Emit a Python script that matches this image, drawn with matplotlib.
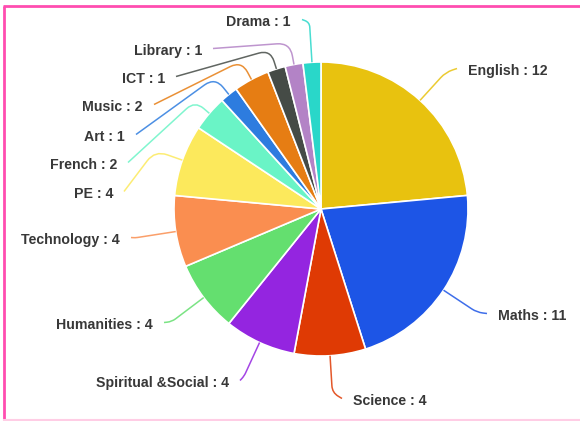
import numpy as np
import matplotlib
matplotlib.use("Agg")
import matplotlib.pyplot as plt
from matplotlib.path import Path
from matplotlib.patches import PathPatch

# --- data ---
subjects = ["English", "Maths", "Science", "Spiritual &Social", "Humanities",
            "Technology", "PE", "French", "Art", "Music", "ICT", "Library", "Drama"]
lessons = [12, 11, 4, 4, 4, 4, 4, 2, 1, 2, 1, 1, 1]
colors = ["#E8C20F", "#1D55E6", "#DF3A04", "#9425E0", "#64DF6F", "#FA8E50",
          "#FCE95C", "#6AF4C6", "#2D7CDF", "#E67D13", "#454B46", "#B383C6", "#29D7C9"]

# label layout in pixels: (text x, text y, side, radial length of leader)
label_layout = {
    "English": (468, 71, "r", 38),
    "Maths": (498, 316, "r", 40),
    "Science": (353, 401, "r", 37),
    "Spiritual &Social": (229, 383, "l", 37),
    "Humanities": (153, 325, "l", 40),
    "Technology": (120, 240, "l", 41),
    "PE": (113, 194, "l", 29),
    "French": (117, 165, "l", 19),
    "Art": (125, 137, "l", 22),
    "Music": (143, 107, "l", 21),
    "ICT": (165, 79, "l", 20),
    "Library": (202, 51, "l", 22),
    "Drama": (291, 22, "l", 40),
}

W, H = 580, 421
cx, cy, r = 321, H - 209, 147

fig = plt.figure(figsize=(W / 100, H / 100), dpi=100)
ax = fig.add_axes([0, 0, 1, 1])

wedges, _ = ax.pie(lessons, colors=colors, startangle=90, counterclock=False,
                   center=(cx, cy), radius=r,
                   wedgeprops=dict(edgecolor="white", linewidth=1.2))

for w, name, val, col in zip(wedges, subjects, lessons, colors):
    tx, ty, side, ext = label_layout[name]
    ty = H - ty
    ang = np.deg2rad((w.theta1 + w.theta2) / 2)
    u = np.array([np.cos(ang), np.sin(ang)])
    p0 = np.array([cx, cy]) + r * u
    p1 = np.array([cx, cy]) + (r + ext) * u
    gap = 11
    p2 = np.array([tx + gap if side == "l" else tx - gap, ty + 2.5])

    # leader: straight out of the slice, rounded bend, then to the label
    d1 = p1 - p0
    d1 = d1 / np.linalg.norm(d1)
    d2 = p2 - p1
    l2 = np.linalg.norm(d2)
    d2 = d2 / l2
    bend = min(13, l2 * 0.6, ext * 0.6)
    a = p1 - d1 * bend
    b = p1 + d2 * bend
    path = Path([p0, a, p1, b, p2],
                [Path.MOVETO, Path.LINETO, Path.CURVE3, Path.CURVE3, Path.LINETO])
    ax.add_patch(PathPatch(path, fill=False, edgecolor=col, lw=1.1, alpha=0.85))

    ax.text(tx, ty, f"{name} : {val}", ha="right" if side == "l" else "left",
            va="center", fontsize=10.2, fontweight="bold", color="#383838",
            family=["Liberation Sans", "DejaVu Sans"])

ax.set_xlim(0, W)
ax.set_ylim(0, H)
ax.set_aspect("equal")
ax.axis("off")

# pink frame around the picture (no right edge in the original)
ax.plot([3, W], [H - 6, H - 6], color="#FF4DB0", lw=2, solid_capstyle="butt")
ax.plot([4, 4], [0, H - 6], color="#FF4DB0", lw=2, solid_capstyle="butt")
ax.plot([4, W], [1, 1], color="#FFCDE5", lw=1.5)

plt.savefig("out.png", dpi=100)
plt.close()
